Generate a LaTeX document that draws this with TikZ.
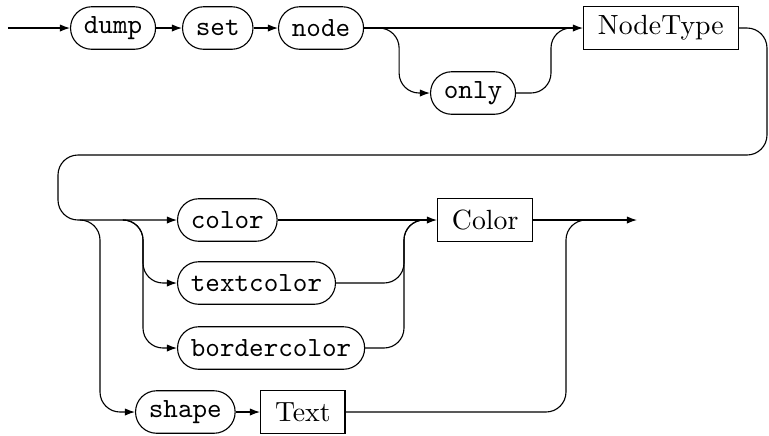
\documentclass[tikz,border=0pt]{standalone}
\usetikzlibrary{arrows.meta}

\begin{document}
\begin{tikzpicture}[x=0.36pt,y=-0.36pt,>={Latex[length=3.6pt,width=2.6pt]},
  kw/.style={draw,rounded corners=7.6pt,font=\ttfamily,inner xsep=4.8pt,minimum height=15.3pt,anchor=west},
  nt/.style={draw,inner xsep=5.2pt,minimum height=15.3pt,anchor=west},
  rail/.style={rounded corners=7.2pt}]
  \useasboundingbox (0,0) rectangle (769,435);
  % first row
  \coordinate (start) at (8,28);
  \node[kw] (kdump) at (70,28) {dump};
  \node[kw] (kset) at (182,28) {set};
  \node[kw] (knode) at (278,28) {node};
  \node[kw] (konly) at (430,93) {only};
  \node[nt] (tNodeType) at (583,28) {NodeType};
  \coordinate (join1) at (551,28);
  \draw[->] (start) -- (kdump);
  \draw[->] (kdump) -- (kset);
  \draw[->] (kset) -- (knode);
  \draw[->] (knode) -- (tNodeType);
  \draw[->,rail] (knode.east) ++(15,0) -- ++(20,0) |- (konly.west);
  \draw[rail] (konly.east) -| (join1) -- ++(20,0);
  % second part
  \node[kw] (kcolor) at (177,220) {color};
  \node[kw] (ktextcolor) at (177,283) {textcolor};
  \node[kw] (kbordercolor) at (177,348) {bordercolor};
  \node[kw] (kshape) at (135,412) {shape};
  \node[nt] (tText) at (260,412) {Text};
  \node[nt] (tColor) at (437,220) {Color};
  \coordinate (wrap) at (767,155);
  \coordinate (wrapl) at (58,155);
  \coordinate (fork) at (80,220);
  \coordinate (join2) at (404,220);
  \coordinate (merge) at (566,220);
  \coordinate (end) at (637,220);
  \draw[->,rail] (tNodeType.east) -| (wrap) -- (wrapl) |- (kcolor.west);
  \draw[->,rail] (fork) -- ++(20,0) |- (kshape.west);
  \draw[->,rail] (fork) ++(43,0) -- ++(20,0) |- (ktextcolor.west);
  \draw[->,rail] (fork) ++(43,0) -- ++(20,0) |- (kbordercolor.west);
  \draw[->] (kcolor) -- (tColor);
  \draw[rail] (ktextcolor.east) -| (join2) -- ++(20,0);
  \draw[rail] (kbordercolor.east) -| (join2) -- ++(20,0);
  \draw[->] (kshape) -- (tText);
  \draw[->] (tColor) -- (end);
  \draw[rail] (tText.east) -| (merge) -- ++(20,0);
\end{tikzpicture}
\end{document}
